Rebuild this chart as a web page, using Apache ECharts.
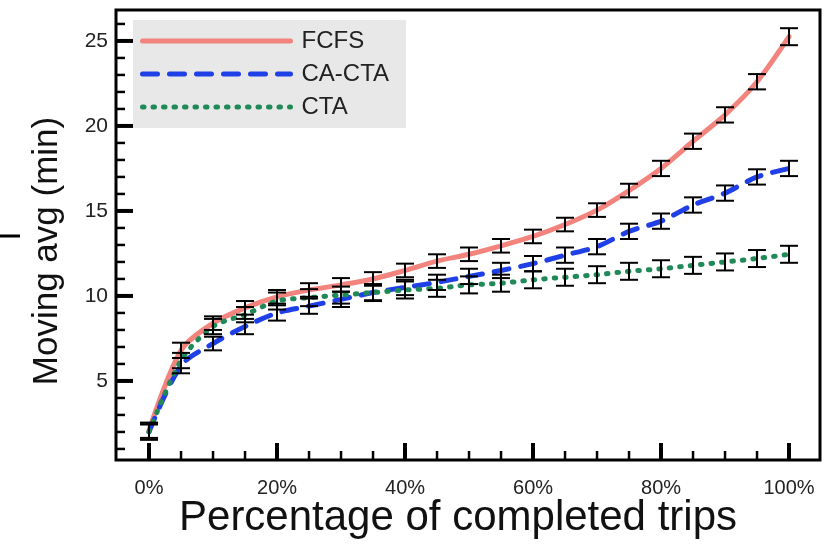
<!DOCTYPE html>
<html>
<head>
<meta charset="utf-8">
<script src="https://cdn.jsdelivr.net/npm/echarts@6/dist/echarts.min.js"></script>
<style>
  html, body { margin: 0; padding: 0; background: #fff; }
  #chart { width: 827px; height: 547px; }
</style>
</head>
<body>
<div id="chart"></div>
<script>
// Share of completed trips (%)
const pct = [0, 5, 10, 15, 20, 25, 30, 35, 40, 45, 50, 55, 60, 65, 70, 75, 80, 85, 90, 95, 100];

// Moving average waiting time (min) per dispatch policy
const fcfs  = [2.1, 6.8, 8.4, 9.3, 9.95, 10.35, 10.65, 11.0, 11.5, 12.05, 12.45, 12.95, 13.5, 14.2, 15.05, 16.2, 17.5, 19.1, 20.65, 22.6, 25.25];
const caCta = [2.0, 5.9, 7.2, 8.2, 9.0, 9.4, 9.8, 10.2, 10.5, 10.8, 11.15, 11.5, 11.9, 12.4, 12.9, 13.8, 14.4, 15.35, 16.05, 17.0, 17.5];
const cta   = [2.0, 6.2, 8.2, 8.9, 9.7, 9.9, 10.05, 10.2, 10.35, 10.45, 10.65, 10.75, 10.95, 11.1, 11.25, 11.45, 11.6, 11.8, 12.0, 12.2, 12.45];

// Half-widths of the error bars (min)
const fcfsErr  = [0.45, 0.45, 0.4, 0.4, 0.4, 0.4, 0.4, 0.4, 0.4, 0.4, 0.4, 0.4, 0.4, 0.4, 0.4, 0.4, 0.45, 0.45, 0.45, 0.45, 0.5];
const caCtaErr = [0.45, 0.45, 0.4, 0.45, 0.45, 0.45, 0.45, 0.45, 0.45, 0.45, 0.45, 0.45, 0.45, 0.45, 0.45, 0.45, 0.45, 0.45, 0.45, 0.45, 0.45];
const ctaErr   = [0.45, 0.45, 0.45, 0.45, 0.5, 0.5, 0.5, 0.5, 0.5, 0.5, 0.5, 0.5, 0.5, 0.5, 0.5, 0.5, 0.5, 0.5, 0.5, 0.5, 0.5];

// Axis ticks
const xMajor = [0, 20, 40, 60, 80, 100];
const xMinor = [5, 10, 15, 25, 30, 35, 45, 50, 55, 65, 70, 75, 85, 90, 95];
const yMajor = [5, 10, 15, 20, 25];
const yMinor = [1, 2, 3, 4, 6, 7, 8, 9, 11, 12, 13, 14, 16, 17, 18, 19, 21, 22, 23, 24, 26];

const names = ['FCFS', 'CA-CTA', 'CTA'];
const colors = ['#f2837d', '#1f40e6', '#1f8a58'];
const dashes = ['solid', [15, 12], [1.5, 9]];
const FONT = '"Liberation Sans", Arial, Helvetica, sans-serif';
const X_MIN = -5.16, X_MAX = 104.84, Y_MIN = 0.35, Y_MAX = 26.82;
const GRID = { left: 116, top: 10, right: 7, bottom: 87 };
const W = 827, H = 547;

const pairs = vals => pct.map((p, i) => [p, vals[i]]);
const bars = (vals, errs) => pct.map((p, i) => [p, vals[i] - errs[i], vals[i] + errs[i]]);

function renderErrorBar(params, api) {
  const x = api.value(0);
  const lo = api.coord([x, api.value(1)]);
  const hi = api.coord([x, api.value(2)]);
  const half = 9;
  const style = { stroke: '#000', lineWidth: 2 };
  return {
    type: 'group',
    children: [
      { type: 'line', shape: { x1: lo[0], y1: lo[1], x2: hi[0], y2: hi[1] }, style },
      { type: 'line', shape: { x1: lo[0] - half, y1: lo[1], x2: lo[0] + half, y2: lo[1] }, style },
      { type: 'line', shape: { x1: hi[0] - half, y1: hi[1], x2: hi[0] + half, y2: hi[1] }, style }
    ]
  };
}

function errorSeries(vals, errs) {
  return {
    type: 'custom',
    xAxisIndex: 0, yAxisIndex: 0,
    renderItem: renderErrorBar,
    data: bars(vals, errs),
    z: 5,
    silent: true
  };
}

function lineSeries(k, vals) {
  return {
    name: names[k], type: 'line', xAxisIndex: 0, yAxisIndex: 0,
    data: pairs(vals), showSymbol: false, symbol: 'none', smooth: 0.3,
    lineStyle: { color: colors[k], width: 5, type: dashes[k], cap: 'round' },
    itemStyle: { color: colors[k] }, z: 2 + k
  };
}

// Pixel position of an axis value along the frame edges
const plotW = W - GRID.left - GRID.right;
const plotH = H - GRID.top - GRID.bottom;
const xPix = v => GRID.left + (v - X_MIN) / (X_MAX - X_MIN) * plotW;
const yPix = v => H - GRID.bottom - (v - Y_MIN) / (Y_MAX - Y_MIN) * plotH;

// Inward tick marks, as rectangle shapes
function tickShapes(values, isX, len, width) {
  return values.map(v => isX
    ? { x: xPix(v) - width / 2, y: H - GRID.bottom - len, width: width, height: len }
    : { x: GRID.left, y: yPix(v) - width / 2, width: len, height: width });
}
const allTicks = [].concat(
  tickShapes(xMajor, true, 17, 4),
  tickShapes(xMinor, true, 9, 2.5),
  tickShapes(yMajor, false, 17, 4),
  tickShapes(yMinor, false, 9, 2.5)
);

const chart = echarts.init(document.getElementById('chart'), null, { renderer: 'canvas' });

chart.setOption({
  animation: false,
  backgroundColor: '#fff',
  grid: Object.assign({
    show: true, borderColor: '#000', borderWidth: 3,
    containLabel: false
  }, GRID),
  legend: {
    data: names.map((n, k) => ({
      name: n,
      itemStyle: { opacity: 0 },
      lineStyle: { color: colors[k], width: 5, type: dashes[k], cap: 'round', opacity: 1 }
    })),
    orient: 'vertical',
    left: 133, top: 20,
    backgroundColor: '#e8e8e8',
    padding: [9, 17, 9, 7],
    itemWidth: 148, itemHeight: 14, itemGap: 9,
    textStyle: { fontFamily: FONT, fontSize: 24, color: '#222', padding: [0, 0, 0, 6] }
  },
  xAxis: {
    type: 'value', min: X_MIN, max: X_MAX, position: 'bottom',
    axisLine: { show: false, onZero: false },
    splitLine: { show: false },
    axisTick: { show: false },
    axisLabel: {
      customValues: xMajor, formatter: v => v + '%',
      fontFamily: FONT, fontSize: 20, color: '#222', margin: 18
    }
  },
  yAxis: {
    type: 'value', min: Y_MIN, max: Y_MAX, position: 'left',
    axisLine: { show: false, onZero: false },
    splitLine: { show: false },
    axisTick: { show: false },
    axisLabel: { customValues: yMajor, fontFamily: FONT, fontSize: 21, color: '#222', margin: 8 }
  },
  graphic: [
    {
      type: 'text', x: 458, y: 518, z: 100,
      style: {
        text: 'Percentage of completed trips', font: '42px ' + FONT, fill: '#111',
        textAlign: 'center', textVerticalAlign: 'middle'
      }
    },
    {
      type: 'text', x: 47, y: 251, rotation: Math.PI / 2, z: 100,
      style: {
        text: 'Moving avg (min)', font: '35px ' + FONT, fill: '#111',
        textAlign: 'center', textVerticalAlign: 'middle'
      }
    },
    {
      type: 'line', z: 100, shape: { x1: 0, y1: 236, x2: 20, y2: 236 },
      style: { stroke: '#000', lineWidth: 3 }
    }
  ].concat(allTicks.map(s => ({ type: 'rect', z: 100, shape: s, style: { fill: '#000' } }))),
  series: [
    lineSeries(0, fcfs),
    lineSeries(1, caCta),
    lineSeries(2, cta),
    errorSeries(fcfs, fcfsErr),
    errorSeries(caCta, caCtaErr),
    errorSeries(cta, ctaErr)
  ]
});
</script>
</body>
</html>
